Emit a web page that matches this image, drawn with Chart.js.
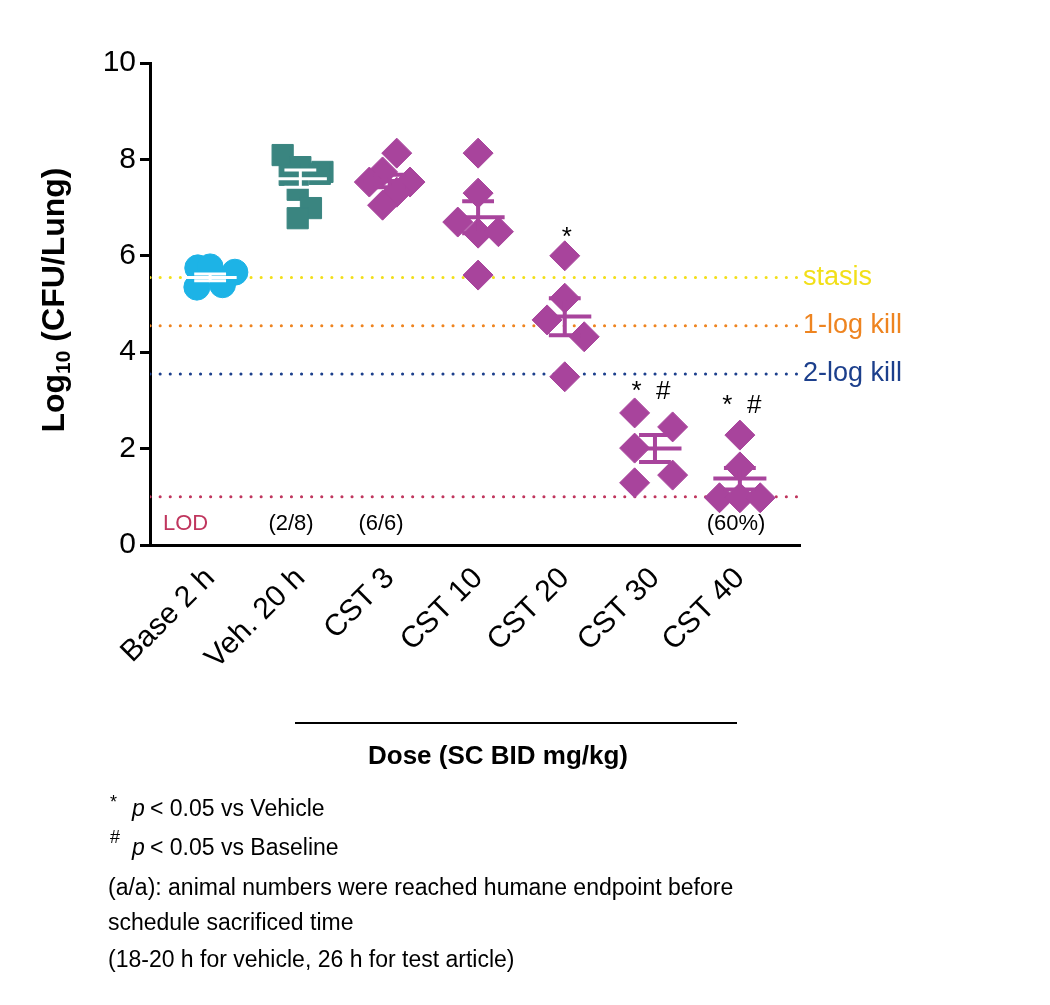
<!DOCTYPE html>
<html>
<head>
<meta charset="utf-8">
<script src="https://cdn.jsdelivr.net/npm/chart.js@4"></script>
<style>
  body { margin: 0; background: #fff; }
  #wrap { width: 1050px; height: 1005px; }
</style>
</head>
<body>
<div id="wrap"><canvas id="c" width="1050" height="1005"></canvas></div>
<script>
// groups along x (0..6)
const categories = ['Base 2 h', 'Veh. 20 h', 'CST 3', 'CST 10', 'CST 20', 'CST 30', 'CST 40'];
const groupX = [0, 1.02, 2.03, 3.03, 4.01, 5.03, 5.99];

// individual animals: [x offset, log10 CFU]
const baseVals = [[-0.14, 5.75], [0, 5.77], [0.28, 5.66], [-0.15, 5.35], [0.14, 5.4]];
const vehVals = [[-0.2, 8.09], [0, 7.84], [0.25, 7.74], [-0.12, 7.68], [-0.03, 7.37], [0.12, 6.99], [-0.03, 6.78], [0.22, 7.7]];
const cst3Vals = [[0.08, 8.13], [-0.08, 7.74], [-0.23, 7.53], [0.23, 7.53], [0.08, 7.32], [-0.08, 7.05]];
const cst10Vals = [[0, 8.13], [0, 7.3], [-0.23, 6.7], [0, 6.47], [0.23, 6.5], [0, 5.6]];
const cst20Vals = [[0, 6.0], [0, 5.12], [-0.2, 4.67], [0.22, 4.32], [0, 3.49]];
const cst30Vals = [[-0.23, 2.74], [0.2, 2.45], [-0.23, 2.01], [0.2, 1.45], [-0.23, 1.29]];
const cst40Vals = [[0, 2.28], [0, 1.62], [-0.23, 0.98], [0, 0.98], [0.23, 0.98]];

// mean and SEM
const means = [5.55, 7.6, 7.55, 6.8, 4.74, 2.0, 1.38];
const semLo = [5.48, 7.42, 7.42, 6.47, 4.35, 1.72, 1.15];
const semHi = [5.62, 7.78, 7.68, 7.13, 5.12, 2.28, 1.6];

// reference lines
const refLines = [
  { label: 'stasis', y: 5.55, color: '#f2df19' },
  { label: '1-log kill', y: 4.55, color: '#ee8420' },
  { label: '2-log kill', y: 3.55, color: '#1c3f8c' },
  { label: 'LOD', y: 1.0, color: '#c0365e' }
];

const X_MIN = -0.68, X_MAX = 6.67;
const cyan = '#1db3e6', teal = '#3a8580', purple = '#a8449c';

function pts(vals, i) { return vals.map(v => ({ x: groupX[i] + v[0], y: v[1] })); }

function barLines(idxs) {
  const d = [];
  idxs.forEach(i => {
    const c = groupX[i];
    d.push({ x: c - 0.3, y: means[i] }, { x: c + 0.3, y: means[i] }, { x: c, y: null });
    d.push({ x: c, y: semLo[i] }, { x: c, y: semHi[i] }, { x: c, y: null });
    d.push({ x: c - 0.18, y: semLo[i] }, { x: c + 0.18, y: semLo[i] }, { x: c, y: null });
    d.push({ x: c - 0.18, y: semHi[i] }, { x: c + 0.18, y: semHi[i] }, { x: c, y: null });
  });
  return d;
}

const datasets = [];
refLines.forEach(r => datasets.push({
  type: 'line', data: [{ x: X_MIN, y: r.y }, { x: X_MAX, y: r.y }],
  borderColor: r.color, borderWidth: 3, borderDash: [0.1, 10], borderCapStyle: 'round',
  pointRadius: 0, order: 5
}));
datasets.push({ type: 'scatter', data: pts(baseVals, 0), pointStyle: 'circle', pointRadius: 13,
  backgroundColor: cyan, borderColor: cyan, order: 2 });
datasets.push({ type: 'scatter', data: pts(vehVals, 1), pointStyle: 'rect', pointRadius: 15,
  backgroundColor: teal, borderColor: teal, order: 2 });
[cst3Vals, cst10Vals, cst20Vals, cst30Vals, cst40Vals].forEach((v, k) => datasets.push({
  type: 'scatter', data: pts(v, k + 2), pointStyle: 'rectRot', pointRadius: 15,
  backgroundColor: purple, borderColor: purple, order: 2 }));
datasets.push({ type: 'line', data: barLines([0]), borderColor: '#ffffff', borderWidth: 3, pointRadius: 0, spanGaps: false, order: 1 });
datasets.push({ type: 'line', data: barLines([1]), borderColor: '#ffffff', borderWidth: 3, pointRadius: 0, spanGaps: false, order: 1 });
datasets.push({ type: 'line', data: barLines([2, 3, 4, 5, 6]), borderColor: purple, borderWidth: 4, pointRadius: 0, spanGaps: false, order: 1 });

const textPlugin = {
  id: 'texts',
  afterDraw(chart) {
    const ctx = chart.ctx;
    const xs = chart.scales.x, ys = chart.scales.y;
    ctx.save();
    ctx.textBaseline = 'middle';
    // reference line labels
    ctx.font = '27px "Liberation Sans", Arial';
    ctx.textAlign = 'left';
    refLines.slice(0, 3).forEach(r => { ctx.fillStyle = r.color; ctx.fillText(r.label, 803, ys.getPixelForValue(r.y)); });
    ctx.fillStyle = refLines[3].color;
    ctx.font = '22px "Liberation Sans", Arial';
    ctx.fillText('LOD', 163, 524);
    ctx.fillStyle = '#000';
    ctx.textAlign = 'center';
    ctx.fillText('(2/8)', 291, 524);
    ctx.fillText('(6/6)', 381, 524);
    ctx.fillText('(60%)', 736, 524);
    ctx.font = '26px "Liberation Sans", Arial';
    ctx.fillText('*', xs.getPixelForValue(groupX[4]) + 2, 238);
    ctx.fillText('*  #', xs.getPixelForValue(groupX[5]) - 4, 392);
    ctx.fillText('*  #', xs.getPixelForValue(groupX[6]) + 2, 406);
    // y title with subscript
    ctx.save();
    ctx.translate(55, 300);
    ctx.rotate(-Math.PI / 2);
    ctx.textAlign = 'left';
    const p1 = 'Log', p3 = ' (CFU/Lung)';
    ctx.font = 'bold 32px "Liberation Sans", Arial';
    const w1 = ctx.measureText(p1).width;
    const w3 = ctx.measureText(p3).width;
    ctx.font = 'bold 21px "Liberation Sans", Arial';
    const w2 = ctx.measureText('10').width;
    let x0 = -(w1 + w2 + w3) / 2;
    ctx.font = 'bold 32px "Liberation Sans", Arial';
    ctx.fillText(p1, x0, 0);
    ctx.font = 'bold 21px "Liberation Sans", Arial';
    ctx.fillText('10', x0 + w1, 9);
    ctx.font = 'bold 32px "Liberation Sans", Arial';
    ctx.fillText(p3, x0 + w1 + w2, 0);
    ctx.restore();
    // dose bracket
    ctx.strokeStyle = '#000';
    ctx.lineWidth = 2;
    ctx.beginPath(); ctx.moveTo(295, 723); ctx.lineTo(737, 723); ctx.stroke();
    ctx.font = 'bold 26px "Liberation Sans", Arial';
    ctx.fillText('Dose (SC BID mg/kg)', 498, 757);
    // footnotes
    ctx.textAlign = 'left';
    ctx.font = '18px "Liberation Sans", Arial';
    ctx.fillText('*', 110, 803);
    ctx.fillText('#', 110, 838);
    ctx.font = 'italic 23px "Liberation Sans", Arial';
    ctx.fillText('p', 132, 810);
    ctx.fillText('p', 132, 849);
    ctx.font = '23px "Liberation Sans", Arial';
    ctx.fillText('< 0.05 vs Vehicle', 150, 810);
    ctx.fillText('< 0.05 vs Baseline', 150, 849);
    ctx.fillText('(a/a): animal numbers were reached humane endpoint before', 108, 889);
    ctx.fillText('schedule sacrificed time', 108, 924);
    ctx.fillText('(18-20 h for vehicle, 26 h for test article)', 108, 961);
    ctx.restore();
  }
};

new Chart(document.getElementById('c'), {
  data: { datasets },
  options: {
    responsive: false,
    animation: false,
    layout: { padding: { top: 63, right: 250, left: 0, bottom: 0 } },
    plugins: { legend: { display: false }, tooltip: { enabled: false } },
    scales: {
      x: {
        type: 'linear', min: X_MIN, max: X_MAX,
        afterBuildTicks: s => { s.ticks = groupX.map(v => ({ value: v })); },
        afterFit: s => { s.height = 460; },
        grid: { display: false, drawTicks: false },
        border: { color: '#000', width: 3 },
        ticks: {
          callback: (v, i) => categories[i],
          minRotation: 45, maxRotation: 45, padding: 16,
          color: '#000', font: { family: '"Liberation Sans", Arial', size: 30 }
        }
      },
      y: {
        min: 0, max: 10,
        afterFit: s => { s.width = 150; },
        grid: { display: true, drawOnChartArea: false, drawTicks: true, tickLength: 10, tickWidth: 3, tickColor: '#000', color: '#000' },
        border: { color: '#000', width: 3 },
        ticks: { stepSize: 2, color: '#000', padding: 4, font: { family: '"Liberation Sans", Arial', size: 30 } }
      }
    }
  },
  plugins: [textPlugin]
});
</script>
</body>
</html>
